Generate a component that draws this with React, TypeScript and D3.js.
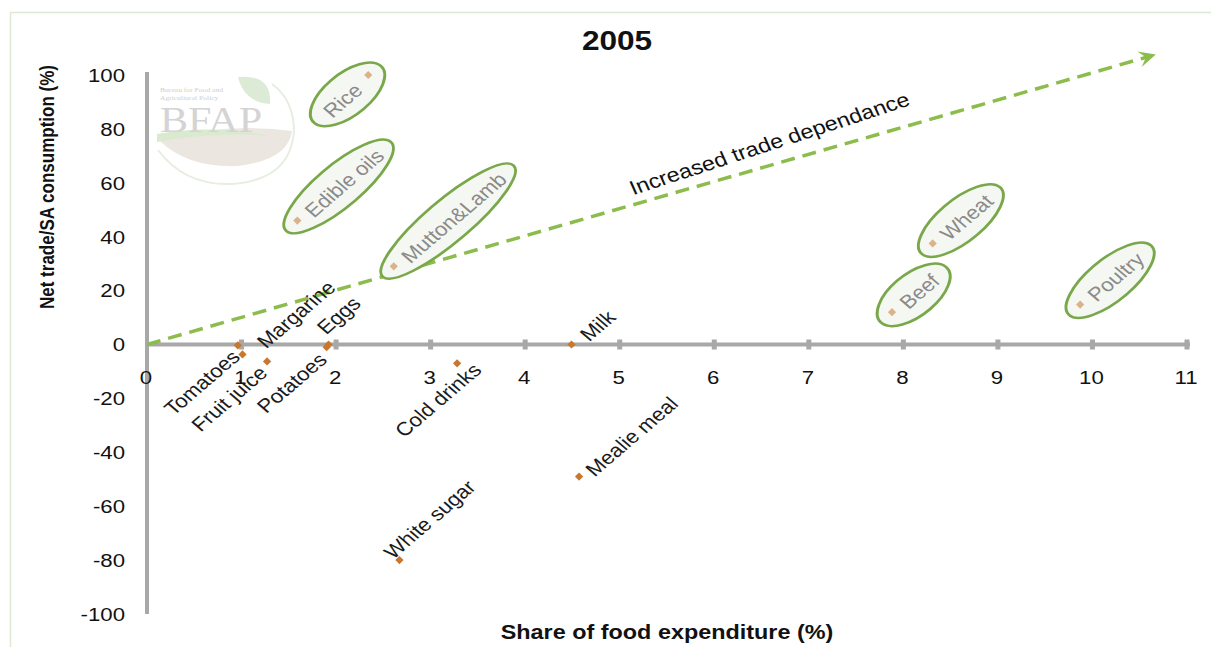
import React, { useEffect, useRef } from "react";
import * as d3 from "d3";

// ---------- data ----------
const xTickValues = [0, 1, 2, 3, 4, 5, 6, 7, 8, 9, 10, 11];
const yTickValues = [100, 80, 60, 40, 20, 0, -20, -40, -60, -80, -100];

const circledNames = ["Rice", "Edible oils", "Mutton&Lamb", "Wheat", "Beef", "Poultry"];
const circledShare = [2.34, 1.59, 2.61, 8.31, 7.88, 9.87];
const circledTrade = [100, 46, 29, 37.5, 12, 14.8];

const otherNames = ["Tomatoes", "Margarine", "Fruit juice", "Potatoes", "Eggs", "Cold drinks", "Milk", "Mealie meal", "White sugar"];
const otherShare = [0.96, 1.01, 1.27, 1.9, 1.92, 3.28, 4.49, 4.57, 2.67];
const otherTrade = [-0.3, -3.7, -6.3, -1, 0, -7, 0, -49, -80];

const trendStart = [0, 0];
const trendEnd = [10.67, 107.6];

const chartTitle = "2005";
const xTitle = "Share of food expenditure (%)";
const yTitle = "Net trade/SA consumption (%)";
const trendLabel = "Increased trade dependance";

// ---------- style ----------
const W = 1211;
const H = 647;
const S = 1.17; // horizontal stretch of the reference picture
const FONT = "'Liberation Sans', Arial, sans-serif";
const AXIS = "#a8a8a8";
const ORANGE = "#c8772d";
const TAN = "#dbb38b";
const GREEN = "#79a84a";
const DASH = "#8cbc4c";

type LabelStyle = { dx: number; dy: number; anchor: "start" | "end" };
const labelStyle: Record<string, LabelStyle> = {
  Tomatoes: { dx: -2, dy: 8, anchor: "end" },
  Margarine: { dx: 18, dy: -10, anchor: "start" },
  "Fruit juice": { dx: -4, dy: 8, anchor: "end" },
  Potatoes: { dx: -4, dy: 9, anchor: "end" },
  Eggs: { dx: -8, dy: -14, anchor: "start" },
  "Cold drinks": { dx: 20, dy: 3, anchor: "end" },
  Milk: { dx: 12, dy: -7, anchor: "start" },
  "Mealie meal": { dx: 10, dy: -4, anchor: "start" },
  "White sugar": { dx: -12, dy: -5, anchor: "start" },
  Rice: { dx: -10, dy: 12, anchor: "end" },
  "Edible oils": { dx: 11, dy: -7, anchor: "start" },
  "Mutton&Lamb": { dx: 11, dy: -7, anchor: "start" },
  Wheat: { dx: 11, dy: -7, anchor: "start" },
  Beef: { dx: 11, dy: -7, anchor: "start" },
  Poultry: { dx: 11, dy: -7, anchor: "start" },
};

export default function App() {
  const ref = useRef<SVGSVGElement>(null);

  useEffect(() => {
    const svg = d3.select(ref.current!);
    svg.selectAll("*").remove();

    const x = d3.scaleLinear().domain([0, 11]).range([147, 1187]);
    const y = d3.scaleLinear().domain([-100, 100]).range([614, 75]);

    // frame
    svg.append("rect").attr("x", 10.5).attr("y", 12.5).attr("width", W).attr("height", H)
      .attr("fill", "white").attr("stroke", "#dce7d4").attr("stroke-width", 1.5);

    // BFAP watermark logo
    const logo = svg.append("g");
    logo.append("path").attr("d", "M158 150 Q185 186 232 184 Q290 180 294 132 Q294 100 272 84")
      .attr("fill", "none").attr("stroke", "#e6eee2").attr("stroke-width", 2);
    logo.append("path").attr("d", "M160 141 Q225 122 292 131 Q288 160 238 166 Q188 168 160 141 Z").attr("fill", "#ece6e1");
    logo.append("path").attr("d", "M157 134 Q212 124 270 136 Q212 131 157 142 Z").attr("fill", "#d9eacf");
    logo.append("path").attr("d", "M238 77 Q272 74 270 104 Q244 102 238 77 Z").attr("fill", "#dcebd5");
    logo.append("text").attr("transform", `translate(160,132) scale(${S},1)`)
      .attr("font-family", "'Liberation Serif', serif").attr("font-size", 36)
      .attr("fill", "#d4d4d4").text("BFAP");
    logo.append("text").attr("transform", `translate(160,92) scale(${S},1)`)
      .attr("font-family", "'Liberation Serif', serif").attr("font-size", 6.5).attr("fill", "#cfcfcf")
      .text("Bureau for Food and");
    logo.append("text").attr("transform", `translate(160,100) scale(${S},1)`)
      .attr("font-family", "'Liberation Serif', serif").attr("font-size", 6.5).attr("fill", "#cfcfcf")
      .text("Agricultural Policy");

    // title
    svg.append("text").attr("transform", `translate(617,50) scale(${S},1)`)
      .attr("text-anchor", "middle").attr("font-family", "'Liberation Sans Narrow', 'Arial Narrow', " + FONT)
      .attr("font-weight", "bold").attr("font-size", 27).attr("fill", "#111").text(chartTitle);

    // axes
    svg.append("line").attr("x1", x(0)).attr("x2", x(0)).attr("y1", y(100) - 3).attr("y2", y(-100))
      .attr("stroke", AXIS).attr("stroke-width", 4);
    svg.append("line").attr("x1", x(0)).attr("x2", x(11) + 3).attr("y1", y(0)).attr("y2", y(0))
      .attr("stroke", AXIS).attr("stroke-width", 4);
    svg.append("g").selectAll("rect").data(xTickValues.filter((d) => d > 0)).join("rect")
      .attr("x", (d) => x(d) - 2.5).attr("y", y(0) - 5).attr("width", 5).attr("height", 10)
      .attr("fill", AXIS);

    // tick labels
    svg.append("g").selectAll("text").data(xTickValues).join("text")
      .attr("transform", (d) => `translate(${x(d) - 1},${y(0) + 33}) scale(${S},1)`)
      .attr("text-anchor", "middle").attr("dominant-baseline", "central")
      .attr("font-family", FONT).attr("font-size", 19).attr("fill", "#111")
      .text((d) => String(d));
    svg.append("g").selectAll("text").data(yTickValues).join("text")
      .attr("transform", (d) => `translate(125,${y(d)}) scale(${S},1)`)
      .attr("text-anchor", "end").attr("dominant-baseline", "central")
      .attr("font-family", FONT).attr("font-size", 19).attr("fill", "#111")
      .text((d) => String(d));

    // axis titles
    svg.append("text").attr("transform", `translate(667,632) scale(${S},1)`)
      .attr("text-anchor", "middle").attr("dominant-baseline", "central")
      .attr("font-family", FONT).attr("font-weight", "bold").attr("font-size", 20).attr("fill", "#111")
      .text(xTitle);
    svg.append("text").attr("transform", `translate(47,187) scale(${S},1) rotate(-90)`)
      .attr("text-anchor", "middle").attr("dominant-baseline", "central")
      .attr("font-family", FONT).attr("font-weight", "bold").attr("font-size", 17).attr("fill", "#111")
      .text(yTitle);

    // trend arrow
    const x1 = x(trendStart[0]), y1 = y(trendStart[1]);
    const x2 = x(trendEnd[0]), y2 = y(trendEnd[1]);
    const ang = Math.atan2(y2 - y1, x2 - x1);
    const headLen = 17;
    const lx2 = x2 - Math.cos(ang) * 8, ly2 = y2 - Math.sin(ang) * 8;
    svg.append("line").attr("x1", x1).attr("y1", y1).attr("x2", lx2).attr("y2", ly2)
      .attr("stroke", DASH).attr("stroke-width", 3.5).attr("stroke-dasharray", "14 8");
    const head = d3.path();
    const px = (l: number, w: number) => [x2 - Math.cos(ang) * l - Math.sin(ang) * w, y2 - Math.sin(ang) * l + Math.cos(ang) * w];
    const a = px(0, 0), b = px(headLen, 8), c = px(headLen * 0.6, 0), dd = px(headLen, -8);
    head.moveTo(a[0], a[1]); head.lineTo(b[0], b[1]); head.lineTo(c[0], c[1]); head.lineTo(dd[0], dd[1]); head.closePath();
    svg.append("path").attr("d", head.toString()).attr("fill", DASH);

    // trend label
    const t = 0.617;
    const tx = x1 + (x2 - x1) * t, ty = y1 + (y2 - y1) * t - 22;
    svg.append("text").attr("transform", `translate(${tx},${ty}) scale(${S},1) rotate(-20.8)`)
      .attr("text-anchor", "middle").attr("dominant-baseline", "central")
      .attr("font-family", FONT).attr("font-size", 20).attr("fill", "#111").text(trendLabel);

    const rot = -45;
    const rad = (rot * Math.PI) / 180;

    // circled items (ellipse + point + grey label)
    circledNames.forEach((name, i) => {
      const ptx = x(circledShare[i]), pty = y(circledTrade[i]);
      const st = labelStyle[name];
      const g = svg.append("g").attr("transform", `translate(${ptx + st.dx},${pty + st.dy}) scale(${S},1) rotate(${rot})`);
      const ell = g.append("ellipse");
      const txt = g.append("text").attr("text-anchor", st.anchor).attr("dominant-baseline", "central")
        .attr("font-family", FONT).attr("font-size", 19).attr("fill", "#8a8a8a").text(name);
      const L = (txt.node() as SVGTextElement).getComputedTextLength();
      // local coords of point: rotate(-rot) applied to (-dx/S, -dy)
      const vx = -st.dx / S, vy = -st.dy;
      const lx = vx * Math.cos(-rad) - vy * Math.sin(-rad);
      const ly = vx * Math.sin(-rad) + vy * Math.cos(-rad);
      const t0 = st.anchor === "start" ? 0 : -L;
      const t1 = st.anchor === "start" ? L : 0;
      const lo = Math.min(lx, t0), hi = Math.max(lx, t1);
      ell.attr("cx", (lo + hi) / 2).attr("cy", ly / 2).attr("rx", (hi - lo) / 2 + 14).attr("ry", 20)
        .attr("fill", "#f5f7f2").attr("stroke", GREEN).attr("stroke-width", 2.5);
      txt.raise();
      g.append("path").attr("d", d3.symbol(d3.symbolSquare, 34)()!)
        .attr("transform", `translate(${lx},${ly}) rotate(${-rot}) scale(${1 / S},1) rotate(45)`)
        .attr("fill", TAN);
    });

    // other items
    otherNames.forEach((name, i) => {
      const ptx = x(otherShare[i]), pty = y(otherTrade[i]);
      svg.append("path").attr("d", d3.symbol(d3.symbolSquare, 34)()!)
        .attr("transform", `translate(${ptx},${pty}) rotate(45)`).attr("fill", ORANGE);
    });
    otherNames.forEach((name, i) => {
      const ptx = x(otherShare[i]), pty = y(otherTrade[i]);
      const st = labelStyle[name];
      svg.append("text").attr("transform", `translate(${ptx + st.dx},${pty + st.dy}) scale(${S},1) rotate(${rot})`)
        .attr("text-anchor", st.anchor).attr("dominant-baseline", "central")
        .attr("font-family", FONT).attr("font-size", 19).attr("fill", "#1a1a1a").text(name);
    });
  }, []);

  return (
    <div style={{ position: "absolute", left: 0, top: 0 }}>
      <svg ref={ref} width={W} height={H} style={{ display: "block" }} />
    </div>
  );
}
